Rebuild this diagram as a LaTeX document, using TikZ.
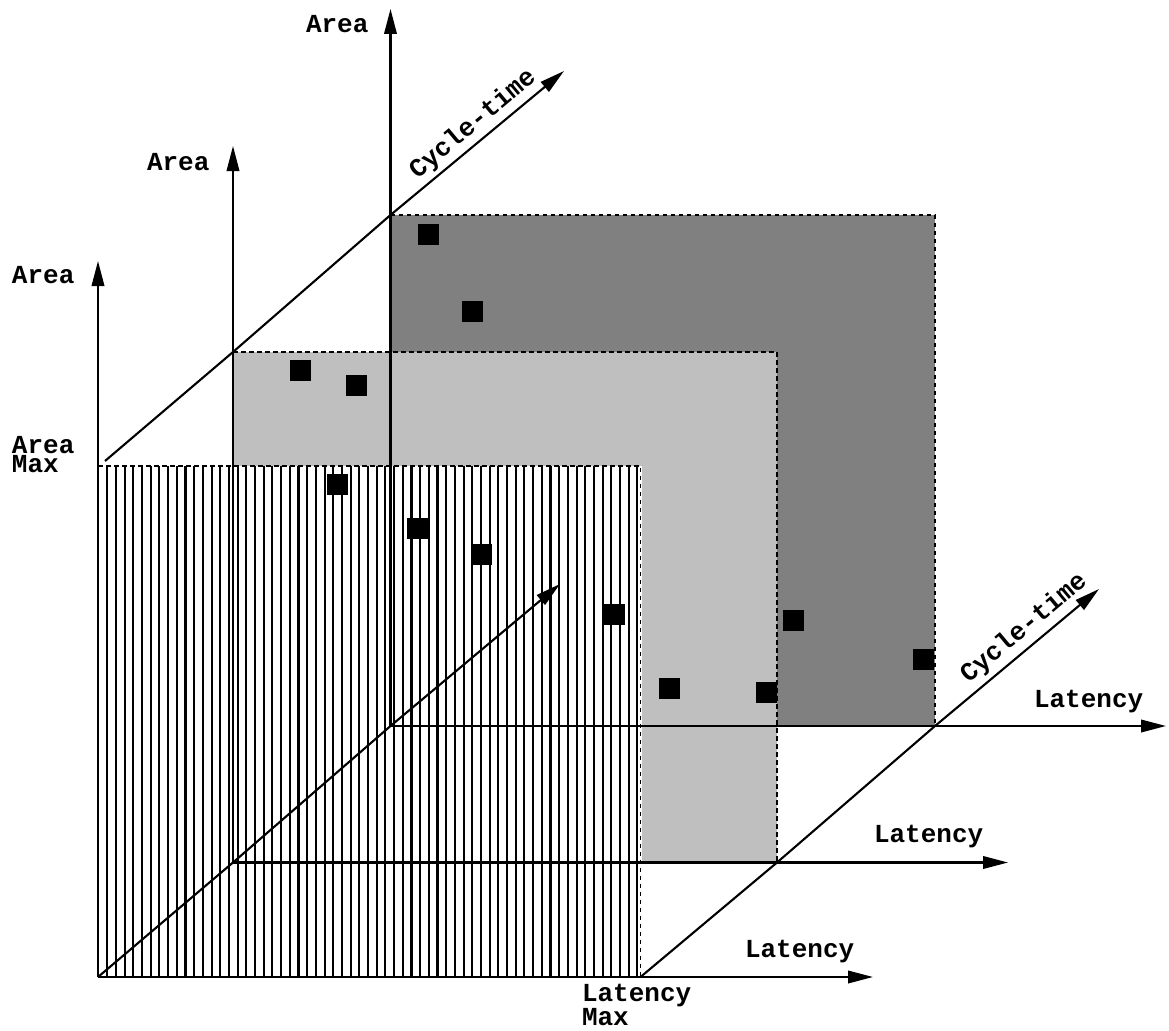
\documentclass[tikz,border=0pt]{standalone}
\usepackage{fontspec}
\newfontfamily\labfont{Liberation Mono}
\usetikzlibrary{arrows.meta}
\begin{document}
\begin{tikzpicture}[x=1pt,y=-1pt,
  axis/.style={line width=2.1pt,-{Triangle[length=25pt,width=12.5pt]}},
  edge/.style={line width=1.9pt,dash pattern=on 4.5pt off 3.5pt},
  hatch/.style={line width=2.1pt},
  sq/.style={fill=black,draw=none,minimum size=21pt,inner sep=0pt,outer sep=0pt},
  lab/.style={font=\labfont\bfseries\fontsize{26}{17}\selectfont,inner sep=0pt,outer sep=0pt},
]
\useasboundingbox (0,0) rectangle (1169,1030);
% key points
\coordinate (O1) at (98,977);
\coordinate (O2) at (233,862.5);
\coordinate (O3) at (390.5,726);
\coordinate (A1) at (98,261);
\coordinate (A2) at (233,146);
\coordinate (A3) at (390.5,9);
\coordinate (L1) at (873,977);
\coordinate (L2) at (1008,862.5);
\coordinate (L3) at (1166,726);
\coordinate (M1) at (98,466);
\coordinate (M2) at (233,352);
\coordinate (M3) at (390.5,215);
\coordinate (T1) at (640.5,466);
\coordinate (T2) at (777,352);
\coordinate (T3) at (935,215);
\coordinate (R1) at (640.5,977);
\coordinate (R2) at (777,862.5);
\coordinate (R3) at (935,726);
\coordinate (S1) at (105,461);
\coordinate (CT) at (564,71);
\coordinate (CB) at (1099,589);
\coordinate (CI) at (560,584);
% filled regions
\fill[black!50] (M3) rectangle (R3);
\fill[black!25] (M2) rectangle (R2);
\fill[white] (M1) rectangle ([xshift=1.5pt]R1);
\foreach \k in {0,...,61}
  \draw[hatch] ({107.3+\k*8.69},466) -- ++(0,511);
% dashed borders
\draw[edge] (M3) -- (T3) -- (R3);
\draw[edge] (M2) -- (T2) -- (R2);
\draw[edge] (M1) -- (T1) -- (R1);
% axes
\draw[axis] (O1) -- (A1);
\draw[axis] (O2) -- (A2);
\draw[axis] (O3) -- (A3);
\draw[axis] (O1) -- (L1);
\draw[axis] (O2) -- (L2);
\draw[axis] (O3) -- (L3);
\draw[axis,line join=round] (S1) -- (M2) -- (M3) -- (CT);
\draw[axis,line join=round] (R1) -- (R2) -- (R3) -- (CB);
\draw[axis,line join=round] (O1) -- (O2) -- (O3) -- (CI);
% design points
\node[sq] (p1) at (428,234) {};
\node[sq] (p2) at (472,311) {};
\node[sq] (p3) at (300,370) {};
\node[sq] (p4) at (356,385) {};
\node[sq] (p5) at (337,484) {};
\node[sq] (p6) at (417,528) {};
\node[sq] (p7) at (481,554) {};
\node[sq] (p8) at (614,614) {};
\node[sq] (p9) at (669,688) {};
\node[sq] (p10) at (766,692) {};
\node[sq] (p11) at (793,620) {};
\node[sq] (p12) at (923,659) {};
% labels
\node[lab,anchor=base west] (la3) at (306,33) {Area};
\node[lab,anchor=base west] (la2) at (147,170) {Area};
\node[lab,anchor=base west] (la1) at (12,283) {Area};
\node[lab,anchor=base west,align=left] (amax) at (12,472) {Area\\Max};
\node[lab,anchor=base west] (ll3) at (1034,707) {Latency};
\node[lab,anchor=base west] (ll2) at (874,842) {Latency};
\node[lab,anchor=base west] (ll1) at (745,957) {Latency};
\node[lab,anchor=base west,align=left,font=\labfont\bfseries\fontsize{26}{21}\selectfont] (lmax) at (582,1025) {Latency\\Max};
\node[lab,rotate=40] (ct1) at (473,124) {Cycle-time};
\node[lab,rotate=40] (ct2) at (1024,628) {Cycle-time};
\end{tikzpicture}
\end{document}
